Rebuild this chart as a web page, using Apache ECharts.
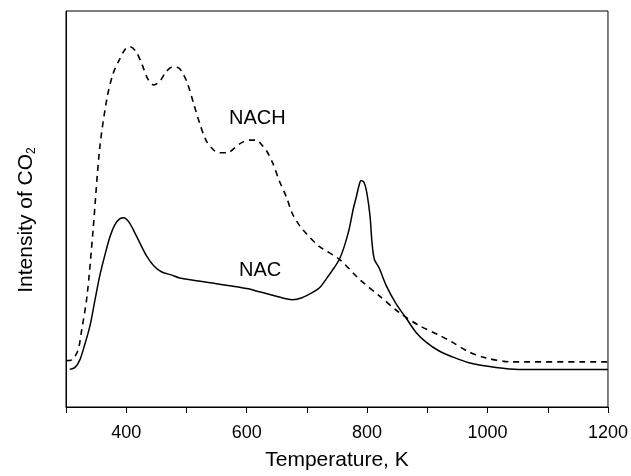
<!DOCTYPE html>
<html>
<head>
<meta charset="utf-8">
<script src="https://cdn.jsdelivr.net/npm/echarts@6/dist/echarts.min.js"></script>
<style>
    html, body { margin: 0; padding: 0; background: #fff; }
    #main { width: 631px; height: 476px; }
</style>
</head>
<body>
<div id="main"></div>
<script>
// temperature (K) and intensity (arbitrary units)
var nachT = [300, 310, 320, 326, 335, 345, 356, 368, 378, 389, 398, 406, 416, 426, 436, 446, 456, 466, 476, 484, 492, 502, 512, 522, 533, 545, 555, 568, 580, 591, 605, 616, 625, 633, 643, 654, 666, 676, 687, 699, 721, 754, 787, 820, 853, 886, 919, 941, 969, 997, 1040, 1200];
var nachI = [11.7, 11.9, 14.4, 19.4, 28.1, 44.8, 65.4, 77.9, 84.1, 87.8, 90.3, 91.0, 89.8, 86.6, 82.8, 81.3, 82.3, 84.6, 85.8, 85.8, 84.8, 81.6, 76.6, 71.6, 67.2, 64.9, 64.2, 64.2, 65.4, 66.7, 67.4, 67.4, 66.2, 64.7, 61.7, 57.2, 53.0, 48.8, 46.0, 43.8, 40.5, 37.3, 32.3, 28.1, 23.9, 20.6, 18.2, 16.4, 13.9, 12.4, 11.4, 11.4];

var nacT = [306, 315, 323, 331, 340, 348, 356, 365, 373, 381, 389, 396, 403, 411, 423, 434, 446, 459, 476, 489, 543, 572, 600, 621, 646, 676, 692, 709, 721, 732, 745, 754, 762, 770, 777, 782, 787, 790, 795, 800, 805, 808, 812, 820, 832, 848, 865, 881, 898, 919, 941, 969, 1014, 1052, 1200];
var nacI = [9.5, 10.0, 11.9, 15.7, 20.6, 26.9, 33.1, 38.6, 43.0, 46.0, 47.5, 47.8, 47.0, 45.0, 41.3, 38.1, 35.6, 34.1, 33.3, 32.6, 31.3, 30.6, 29.9, 29.1, 28.1, 27.1, 27.6, 28.9, 30.1, 32.3, 35.1, 37.3, 40.5, 44.8, 50.0, 53.0, 56.2, 57.2, 56.7, 53.7, 48.0, 41.8, 37.3, 35.1, 30.6, 26.1, 22.4, 18.9, 16.4, 14.2, 12.7, 11.2, 10.0, 9.5, 9.5];

var xTickLabels = [400, 600, 800, 1000, 1200];

function pairs(xs, ys) {
    return xs.map(function (x, i) { return [x, ys[i]]; });
}

var myChart = echarts.init(document.getElementById('main'));
var fontName = '"Liberation Sans", Arial, sans-serif';
var option = {
    animation: false,
    backgroundColor: '#fff',
    grid: {
        left: 66, right: 21, top: 11, bottom: 63,
        show: true, borderColor: '#000', borderWidth: 1
    },
    xAxis: {
        type: 'value',
        min: 300,
        max: 1200,
        interval: 100,
        name: 'Temperature, K',
        nameLocation: 'middle',
        nameGap: 43,
        nameTextStyle: { fontSize: 21, color: '#000', fontFamily: fontName },
        axisLine: { lineStyle: { color: '#000', width: 1 } },
        axisTick: { show: true, length: 6, lineStyle: { color: '#000' } },
        axisLabel: {
            fontSize: 18, color: '#000', fontFamily: fontName, margin: 17,
            formatter: function (v) { return xTickLabels.indexOf(v) >= 0 ? String(v) : ''; }
        },
        splitLine: { show: false }
    },
    yAxis: {
        type: 'value',
        min: 0,
        max: 100,
        name: '{n|Intensity of CO}{s|2}',
        nameLocation: 'middle',
        nameGap: 28,
        nameRotate: 90,
        nameTextStyle: {
            color: '#000', fontFamily: fontName,
            padding: [0, 22, 0, 0],
            rich: {
                n: { fontSize: 21, fontFamily: fontName, color: '#000' },
                s: { fontSize: 12, fontFamily: fontName, color: '#000', verticalAlign: 'bottom', padding: [12, 0, 0, 0] }
            }
        },
        axisLine: { show: true, lineStyle: { color: '#000' } },
        axisTick: { show: false },
        axisLabel: { show: false },
        splitLine: { show: false }
    },
    graphic: [
        { type: 'text', left: 229, top: 108, style: { text: 'NACH', fontSize: 20, fontFamily: fontName, fill: '#000' } },
        { type: 'text', left: 239, top: 260, style: { text: 'NAC', fontSize: 20, fontFamily: fontName, fill: '#000' } }
    ],
    series: [
        {
            name: 'NACH',
            type: 'line',
            data: pairs(nachT, nachI),
            showSymbol: false,
            smooth: 0.3,
            lineStyle: { color: '#000', width: 1.6, type: [6, 5] }
        },
        {
            name: 'NAC',
            type: 'line',
            data: pairs(nacT, nacI),
            showSymbol: false,
            smooth: 0.3,
            lineStyle: { color: '#000', width: 1.5 }
        }
    ]
};
myChart.setOption(option);
</script>
</body>
</html>
